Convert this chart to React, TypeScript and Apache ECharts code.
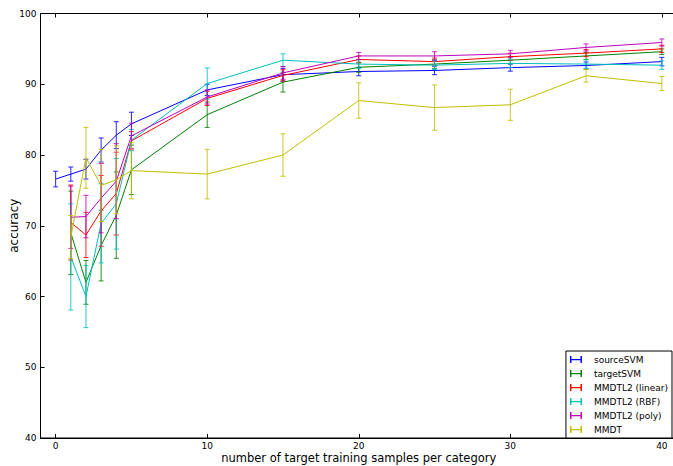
import React, { useEffect, useRef } from 'react';
import * as echarts from 'echarts';

const xSource = [0, 1, 2, 3, 4, 5, 10, 15, 20, 25, 30, 35, 40];
const xOthers = [1, 2, 3, 4, 5, 10, 15, 20, 25, 30, 35, 40];

const seriesNames = ['sourceSVM', 'targetSVM', 'MMDTL2 (linear)', 'MMDTL2 (RBF)', 'MMDTL2 (poly)', 'MMDT'];
const seriesColors = ['#0000ff', '#008000', '#ff0000', '#00bfbf', '#bf00bf', '#bfbf00'];

const sourceSVM = [76.6, 77.3, 78.0, 80.7, 82.8, 84.4, 89.2, 91.35, 91.8, 91.95, 92.35, 92.65, 93.2];
const sourceSVMErr = [1.1, 1.0, 1.4, 1.7, 1.9, 1.65, 0.8, 0.9, 0.6, 0.6, 0.5, 0.5, 0.6];

const targetSVM = [69.0, 62.0, 67.2, 71.5, 77.9, 85.7, 90.3, 92.4, 92.85, 93.4, 94.0, 94.6];
const targetSVMErr = [5.9, 3.1, 5.0, 6.1, 3.5, 1.8, 1.4, 0.7, 0.6, 0.5, 0.5, 0.4];

const mmdtl2Linear = [70.45, 68.7, 72.1, 74.55, 82.0, 88.0, 91.25, 93.5, 93.2, 93.9, 94.4, 95.0];
const mmdtl2LinearErr = [5.3, 3.2, 5.0, 5.85, 1.3, 1.0, 0.8, 0.5, 0.5, 0.5, 0.5, 0.5];

const mmdtl2Rbf = [65.6, 60.0, 70.35, 73.1, 82.1, 90.1, 93.4, 92.85, 92.7, 92.95, 92.85, 92.7];
const mmdtl2RbfErr = [7.5, 4.4, 5.6, 6.4, 1.5, 2.2, 0.9, 0.6, 0.6, 0.6, 0.6, 0.6];

const mmdtl2Poly = [71.2, 71.3, 73.9, 76.3, 82.7, 88.2, 91.6, 94.0, 94.0, 94.3, 95.2, 95.9];
const mmdtl2PolyErr = [4.4, 3.0, 4.9, 5.3, 1.8, 1.0, 0.9, 0.5, 0.6, 0.5, 0.5, 0.5];

const mmdt = [68.4, 79.6, 75.7, 76.5, 77.8, 77.3, 80.0, 87.7, 86.7, 87.1, 91.2, 90.1];
const mmdtErr = [3.05, 4.3, 5.1, 4.8, 4.0, 3.5, 3.0, 2.5, 3.2, 2.2, 0.9, 1.0];

const xTicks = [0, 10, 20, 30, 40];

const seriesX = [xSource, xOthers, xOthers, xOthers, xOthers, xOthers];
const seriesMeans = [sourceSVM, targetSVM, mmdtl2Linear, mmdtl2Rbf, mmdtl2Poly, mmdt];
const seriesErrs = [sourceSVMErr, targetSVMErr, mmdtl2LinearErr, mmdtl2RbfErr, mmdtl2PolyErr, mmdtErr];

const FONT = 'DejaVu Sans';

export default function App() {
  const ref = useRef<HTMLDivElement>(null);
  useEffect(() => {
    if (!ref.current) return;
    const chart = echarts.init(ref.current, null, { renderer: 'svg' });
    const series: any[] = [];
    seriesNames.forEach((name, i) => {
      const color = seriesColors[i];
      const xs = seriesX[i];
      const ms = seriesMeans[i];
      const es = seriesErrs[i];
      series.push({
        name,
        type: 'line',
        data: xs.map((x, j) => [x, ms[j]]),
        showSymbol: false,
        symbol: 'none',
        lineStyle: { color, width: 1 },
        itemStyle: { color },
        z: 2 + i,
      });
      series.push({
        name,
        type: 'custom',
        data: xs.map((x, j) => [x, ms[j] - es[j], ms[j] + es[j]]),
        encode: { x: 0, y: [1, 2] },
        itemStyle: { color },
        z: 2 + i,
        renderItem: (params: any, api: any) => {
          const x = api.value(0);
          const lo = api.coord([x, api.value(1)]);
          const hi = api.coord([x, api.value(2)]);
          const w = 2.5;
          const st = { stroke: color, lineWidth: 1, opacity: 0.85 };
          return {
            type: 'group',
            children: [
              { type: 'line', shape: { x1: lo[0], y1: lo[1], x2: hi[0], y2: hi[1] }, style: st },
              { type: 'line', shape: { x1: lo[0] - w, y1: lo[1], x2: lo[0] + w, y2: lo[1] }, style: st },
              { type: 'line', shape: { x1: hi[0] - w, y1: hi[1], x2: hi[0] + w, y2: hi[1] }, style: st },
            ],
          };
        },
      });
    });

    const tickStyle = { show: true, inside: true, length: 4, lineStyle: { color: '#000', width: 1 } };

    chart.setOption({
      animation: false,
      backgroundColor: '#fff',
      textStyle: { fontFamily: FONT },
      grid: {
        left: 40.5,
        right: -4,
        top: 13.5,
        bottom: 28,
        outerBoundsMode: 'none',
        containLabel: false,
        show: true,
        borderColor: '#000',
        borderWidth: 1,
        backgroundColor: 'transparent',
      },
      legend: {
        orient: 'vertical',
        right: 1,
        top: 351,
        backgroundColor: '#fff',
        borderColor: '#000',
        borderWidth: 1,
        borderRadius: 0,
        padding: [3, 4, 3, 4],
        itemWidth: 12,
        itemHeight: 7,
        itemGap: 3,
        icon: 'path://M0,0h1.5v7h-1.5z M0,3h12v1.2h-12z M10.5,0h1.5v7h-1.5z',
        textStyle: { fontFamily: FONT, fontSize: 9, color: '#000', lineHeight: 11, padding: [0, 0, 0, 7] },
        data: seriesNames.map((n, i) => ({ name: n, itemStyle: { color: seriesColors[i] } })),
      },
      xAxis: [
        {
          type: 'value',
          min: -1,
          max: 41,
          position: 'bottom',
          name: 'number of target training samples per category',
          nameLocation: 'middle',
          nameGap: 14,
          nameMoveOverlap: false,
          nameTextStyle: { fontFamily: FONT, fontSize: 11.5, color: '#000' },
          axisLine: { show: true, onZero: false, lineStyle: { color: '#000', width: 1 } },
          axisTick: { ...tickStyle, customValues: xTicks },
          axisLabel: { customValues: xTicks, fontFamily: FONT, fontSize: 9, color: '#000', margin: 3 },
          splitLine: { show: false },
        },
        {
          type: 'value',
          min: -1,
          max: 41,
          position: 'top',
          axisLine: { show: true, onZero: false, lineStyle: { color: '#000', width: 1 } },
          axisTick: { ...tickStyle, customValues: xTicks },
          axisLabel: { show: false },
          splitLine: { show: false },
        },
      ],
      yAxis: [
        {
          type: 'value',
          min: 40,
          max: 100,
          interval: 10,
          name: 'accuracy',
          nameLocation: 'middle',
          nameGap: 21,
          nameMoveOverlap: false,
          nameTextStyle: { fontFamily: FONT, fontSize: 12, color: '#000' },
          axisLine: { show: true, onZero: false, lineStyle: { color: '#000', width: 1 } },
          axisTick: tickStyle,
          axisLabel: { fontFamily: FONT, fontSize: 9, color: '#000', margin: 4 },
          splitLine: { show: false },
        },
      ],
      series,
    });
    return () => chart.dispose();
  }, []);
  return (
    <div
      ref={ref}
      style={{ position: 'fixed', left: 0, top: 0, width: 673, height: 466, background: '#fff' }}
    />
  );
}
